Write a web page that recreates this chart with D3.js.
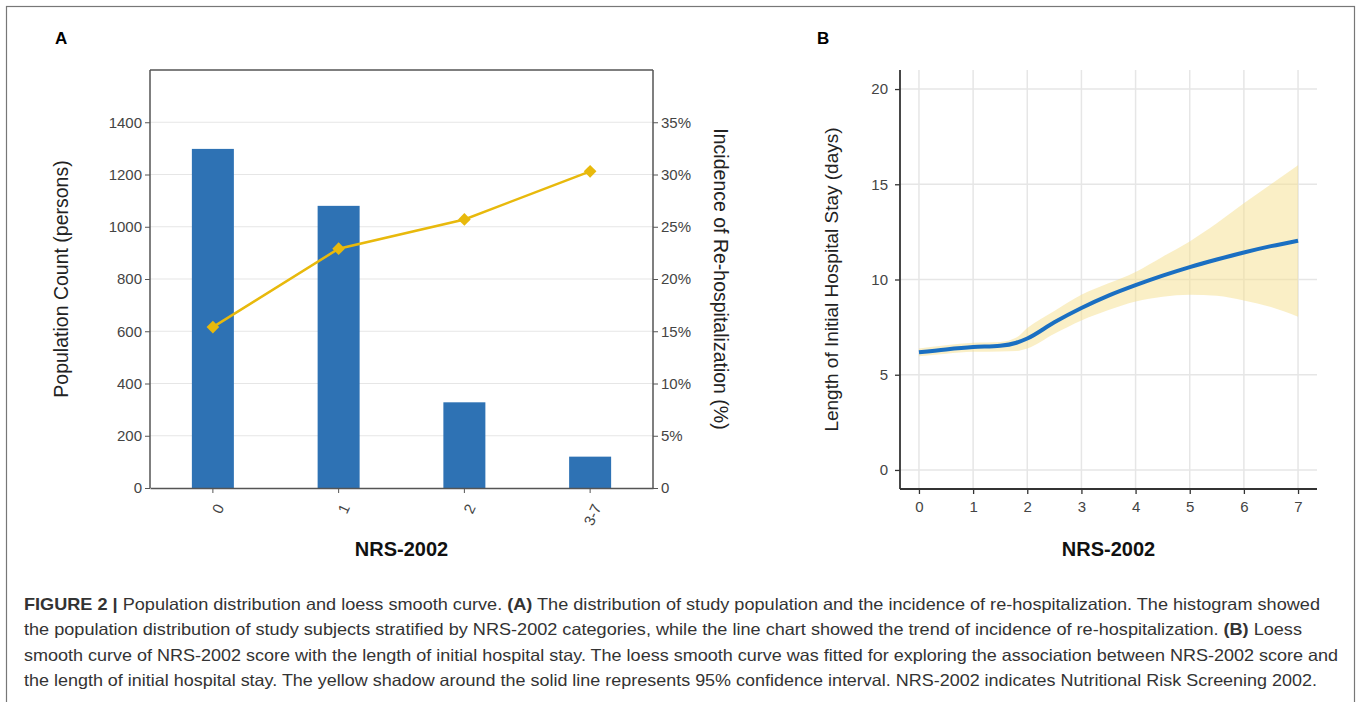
<!DOCTYPE html>
<html>
<head>
<meta charset="utf-8">
<script src="https://cdn.jsdelivr.net/npm/d3@7"></script>
<style>
  body { margin: 0; background: #fff; }
  svg { display: block; font-family: "Liberation Sans", Arial, sans-serif; }
</style>
</head>
<body>
<script>
// Panel A data
var categories = ["0", "1", "2", "3-7"];
var populationCounts = [1298, 1080, 328, 120];
var rehospRates = [0.154, 0.229, 0.257, 0.303];
var countTicks = [0, 200, 400, 600, 800, 1000, 1200, 1400];
var rateTicks = [0, 0.05, 0.10, 0.15, 0.20, 0.25, 0.30, 0.35];

// Panel B data (loess fit and 95% CI)
var nrsScores = [0, 0.5, 1, 1.5, 1.8, 2, 2.5, 3, 3.5, 4, 4.5, 5, 5.5, 6, 6.5, 7];
var stayFit   = [6.18, 6.33, 6.45, 6.52, 6.68, 6.9, 7.75, 8.5, 9.15, 9.7, 10.2, 10.65, 11.05, 11.42, 11.75, 12.04];
var stayUpper = [6.38, 6.55, 6.68, 6.72, 6.95, 7.45, 8.35, 9.2, 9.8, 10.4, 11.2, 12.0, 12.95, 14.0, 15.0, 16.0];
var stayLower = [5.97, 6.1, 6.2, 6.22, 6.25, 6.38, 7.15, 7.85, 8.4, 8.85, 9.1, 9.2, 9.15, 8.9, 8.55, 8.05];
var stayTicks = [0, 5, 10, 15, 20];
var scoreTicks = [0, 1, 2, 3, 4, 5, 6, 7];

var captionLines = [
  [["FIGURE 2 | ", true], ["Population distribution and loess smooth curve. ", false], ["(A)", true], [" The distribution of study population and the incidence of re-hospitalization. The histogram showed", false]],
  [["the population distribution of study subjects stratified by NRS-2002 categories, while the line chart showed the trend of incidence of re-hospitalization. ", false], ["(B)", true], [" Loess", false]],
  [["smooth curve of NRS-2002 score with the length of initial hospital stay. The loess smooth curve was fitted for exploring the association between NRS-2002 score and", false]],
  [["the length of initial hospital stay. The yellow shadow around the solid line represents 95% confidence interval. NRS-2002 indicates Nutritional Risk Screening 2002.", false]]
];
var captionEnds = [1320, 1302, 1338, 1317];

var W = 1357, H = 702;
var svg = d3.select("body").append("svg").attr("width", W).attr("height", H);

// figure frame
svg.append("rect").attr("x", 6.5).attr("y", 6.5).attr("width", 1348).attr("height", 720)
  .attr("fill", "none").attr("stroke", "#777").attr("stroke-width", 1.2);

svg.append("text").attr("x", 55).attr("y", 44).attr("font-size", 17).attr("font-weight", "bold").text("A");
svg.append("text").attr("x", 817).attr("y", 44).attr("font-size", 17).attr("font-weight", "bold").text("B");

// ---------- Panel A ----------
var aL = 150, aR = 653, aT = 70, aB = 488;
var x = d3.scaleBand().domain(categories).range([aL, aR]).paddingInner(0.666).paddingOuter(0.333);
var yCount = d3.scaleLinear().domain([0, 1600]).range([aB, aT]);
var yRate = d3.scaleLinear().domain([0, 0.40]).range([aB, aT]);

var gA = svg.append("g");
gA.selectAll(".gridA").data(countTicks.slice(1)).enter().append("line")
  .attr("x1", aL).attr("x2", aR).attr("y1", function (d) { return yCount(d); }).attr("y2", function (d) { return yCount(d); })
  .attr("stroke", "#e6e6e6").attr("stroke-width", 1.2);

gA.selectAll(".bar").data(populationCounts).enter().append("rect")
  .attr("x", function (d, i) { return x(categories[i]); })
  .attr("width", x.bandwidth())
  .attr("y", function (d) { return yCount(d); })
  .attr("height", function (d) { return aB - yCount(d); })
  .attr("fill", "#2e72b4");

// frame top
gA.append("line").attr("x1", aL).attr("x2", aR).attr("y1", aT).attr("y2", aT).attr("stroke", "#555").attr("stroke-width", 1.5);

var axL = gA.append("g").attr("transform", "translate(" + aL + ",0)")
  .call(d3.axisLeft(yCount).tickValues(countTicks).tickSize(5).tickSizeOuter(0).tickFormat(d3.format("d")));
var axR = gA.append("g").attr("transform", "translate(" + aR + ",0)")
  .call(d3.axisRight(yRate).tickValues(rateTicks).tickSize(5).tickSizeOuter(0)
    .tickFormat(function (d) { return d === 0 ? "0" : Math.round(d * 100) + "%"; }));
var axB = gA.append("g").attr("transform", "translate(0," + aB + ")")
  .call(d3.axisBottom(x).tickSize(5).tickSizeOuter(0));
[axL, axR, axB].forEach(function (g) {
  g.select(".domain").attr("stroke", "#555").attr("stroke-width", 1.5);
  g.selectAll(".tick line").attr("stroke", "#555");
  g.selectAll("text").attr("font-size", 15).attr("fill", "#444").attr("font-family", "Liberation Sans, Arial, sans-serif");
});
axL.select(".domain").attr("d", "M0," + aT + "V" + aB);
axR.select(".domain").attr("d", "M0," + aT + "V" + aB);
axB.selectAll("text").attr("y", 0).attr("dy", "0.35em").attr("text-anchor", "end")
  .attr("transform", "translate(7,17) rotate(-65)");

var rateLine = d3.line()
  .x(function (d, i) { return x(categories[i]) + x.bandwidth() / 2; })
  .y(function (d) { return yRate(d); });
gA.append("path").datum(rehospRates).attr("d", rateLine)
  .attr("fill", "none").attr("stroke", "#e8b90c").attr("stroke-width", 2.5);
gA.selectAll(".mk").data(rehospRates).enter().append("path")
  .attr("d", d3.symbol().type(d3.symbolSquare).size(80))
  .attr("transform", function (d, i) { return "translate(" + (x(categories[i]) + x.bandwidth() / 2) + "," + yRate(d) + ") rotate(45)"; })
  .attr("fill", "#e8b90c");

gA.append("text").attr("transform", "translate(68," + (aT + aB) / 2 + ") rotate(-90)")
  .attr("text-anchor", "middle").attr("font-size", 19.5).attr("fill", "#222").text("Population Count (persons)");
gA.append("text").attr("transform", "translate(714," + (aT + aB) / 2 + ") rotate(90)")
  .attr("text-anchor", "middle").attr("font-size", 19.5).attr("fill", "#222").text("Incidence of Re-hospitalization (%)");
gA.append("text").attr("x", (aL + aR) / 2).attr("y", 556).attr("text-anchor", "middle")
  .attr("font-size", 20).attr("font-weight", "bold").attr("fill", "#111").text("NRS-2002");

// ---------- Panel B ----------
var bL = 900, bR = 1317, bT = 70, bB = 489;
var xs = d3.scaleLinear().domain([-0.35, 7.35]).range([bL, bR]);
var ys = d3.scaleLinear().domain([-1, 21]).range([bB, bT]);
var gB = svg.append("g");

gB.selectAll(".gv").data(scoreTicks).enter().append("line")
  .attr("x1", function (d) { return xs(d); }).attr("x2", function (d) { return xs(d); })
  .attr("y1", bT).attr("y2", bB).attr("stroke", "#e6e6e6").attr("stroke-width", 1.5);
gB.selectAll(".gh").data(stayTicks).enter().append("line")
  .attr("x1", bL).attr("x2", bR)
  .attr("y1", function (d) { return ys(d); }).attr("y2", function (d) { return ys(d); })
  .attr("stroke", "#e6e6e6").attr("stroke-width", 1.5);

var band = d3.area().curve(d3.curveMonotoneX)
  .x(function (d, i) { return xs(nrsScores[i]); })
  .y0(function (d, i) { return ys(stayLower[i]); })
  .y1(function (d) { return ys(d); });
gB.append("path").datum(stayUpper).attr("d", band).attr("fill", "#f6df8e").attr("fill-opacity", 0.5);

var fit = d3.line().curve(d3.curveMonotoneX)
  .x(function (d, i) { return xs(nrsScores[i]); })
  .y(function (d) { return ys(d); });
gB.append("path").datum(stayFit).attr("d", fit).attr("fill", "none")
  .attr("stroke", "#1a6fc2").attr("stroke-width", 4);

var bxL = gB.append("g").attr("transform", "translate(" + bL + ",0)")
  .call(d3.axisLeft(ys).tickValues(stayTicks).tickSize(5).tickSizeOuter(0).tickPadding(7));
var bxB = gB.append("g").attr("transform", "translate(0," + bB + ")")
  .call(d3.axisBottom(xs).tickValues(scoreTicks).tickSize(5).tickSizeOuter(0).tickPadding(7));
[bxL, bxB].forEach(function (g) {
  g.select(".domain").attr("stroke", "#333").attr("stroke-width", 1.8);
  g.selectAll(".tick line").attr("stroke", "#333").attr("stroke-width", 1.3);
  g.selectAll("text").attr("font-size", 15).attr("fill", "#444").attr("font-family", "Liberation Sans, Arial, sans-serif");
});
bxL.select(".domain").attr("d", "M0," + bT + "V" + bB);
bxB.select(".domain").attr("d", "M" + bL + ",0H" + bR);

gB.append("text").attr("transform", "translate(838," + (bT + bB) / 2 + ") rotate(-90)")
  .attr("text-anchor", "middle").attr("font-size", 19).attr("fill", "#222").text("Length of Initial Hospital Stay (days)");
gB.append("text").attr("x", (bL + bR) / 2).attr("y", 556).attr("text-anchor", "middle")
  .attr("font-size", 20).attr("font-weight", "bold").attr("fill", "#111").text("NRS-2002");

// ---------- Caption ----------
var capX = 24;
var cap = svg.append("g");
captionLines.forEach(function (line, i) {
  var t = cap.append("text").attr("x", capX).attr("y", 610 + i * 25.3)
    .attr("font-size", 16.5).attr("fill", "#333")
    .attr("textLength", captionEnds[i] - capX).attr("lengthAdjust", "spacingAndGlyphs");
  line.forEach(function (seg) {
    t.append("tspan").attr("font-weight", seg[1] ? "bold" : "normal").text(seg[0]);
  });
});
</script>
</body>
</html>
